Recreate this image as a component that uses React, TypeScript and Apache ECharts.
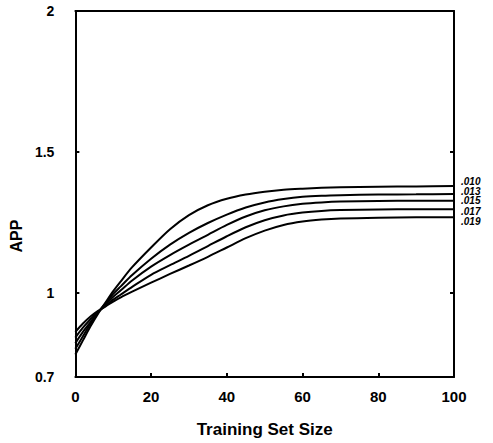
import React, { useEffect, useRef } from "react";
import * as echarts from "echarts";

const trainingSizes = [0, 2, 4, 6, 8, 10, 12, 15, 20, 25, 30, 35, 40, 45, 50, 55, 60, 65, 70, 80, 90, 100];

const seriesNames = [".010", ".013", ".015", ".017", ".019"];

const app010 = [0.78, 0.83, 0.88, 0.925, 0.965, 1.005, 1.04, 1.09, 1.16, 1.225, 1.275, 1.31, 1.333, 1.348, 1.358, 1.365, 1.369, 1.372, 1.374, 1.376, 1.377, 1.378];
const app013 = [0.8, 0.845, 0.89, 0.93, 0.962, 0.995, 1.022, 1.062, 1.12, 1.17, 1.212, 1.247, 1.277, 1.302, 1.32, 1.332, 1.34, 1.344, 1.346, 1.348, 1.349, 1.35];
const app015 = [0.82, 0.86, 0.895, 0.93, 0.958, 0.985, 1.008, 1.043, 1.092, 1.133, 1.17, 1.205, 1.24, 1.27, 1.292, 1.306, 1.315, 1.32, 1.323, 1.325, 1.326, 1.326];
const app017 = [0.84, 0.875, 0.905, 0.932, 0.953, 0.975, 0.993, 1.02, 1.063, 1.097, 1.13, 1.165, 1.2, 1.232, 1.257, 1.274, 1.284, 1.29, 1.293, 1.295, 1.296, 1.296];
const app019 = [0.86, 0.89, 0.915, 0.935, 0.951, 0.968, 0.983, 1.003, 1.035, 1.066, 1.096, 1.127, 1.16, 1.193, 1.22, 1.24, 1.252, 1.259, 1.263, 1.266, 1.267, 1.267];

const seriesValues = [app010, app013, app015, app017, app019];

const yLabelValues = [0.7, 1, 1.5, 2];
const yTickValues = [1, 1.5];
const xTickInterval = 20;

const endLabelOffsets = [-5, -3, 0, 2, 4];

const FONT = "'Liberation Sans', Arial, Helvetica, sans-serif";

export default function App() {
  const ref = useRef<HTMLDivElement>(null);

  useEffect(() => {
    if (!ref.current) return;
    const chart = echarts.init(ref.current, null, { renderer: "svg" });

    const series = seriesNames.map((name, i) => ({
      name,
      type: "line",
      xAxisIndex: 0,
      yAxisIndex: 0,
      data: trainingSizes.map((x, j) => [x, seriesValues[i][j]]),
      showSymbol: false,
      smooth: 0.3,
      lineStyle: { color: "#000", width: 2 },
      itemStyle: { color: "#000" },
      endLabel: {
        show: true,
        formatter: name,
        distance: 7,
        offset: [0, endLabelOffsets[i]],
        fontFamily: FONT,
        fontStyle: "italic",
        fontWeight: "bold",
        fontSize: 10,
        lineHeight: 9,
        color: "#000",
      },
    }));

    const option: any = {
      animation: false,
      backgroundColor: "#fff",
      grid: { left: 74, right: 39, top: 11, bottom: 61, containLabel: false },
      xAxis: [
        {
          type: "value",
          position: "bottom",
          min: 0,
          max: 100,
          interval: xTickInterval,
          name: "Training Set Size",
          nameLocation: "middle",
          nameGap: 44,
          nameTextStyle: { fontFamily: FONT, fontWeight: "bold", fontSize: 17, color: "#000" },
          axisLine: { show: true, lineStyle: { color: "#000", width: 2 } },
          axisTick: { show: true, inside: true, length: 4, lineStyle: { color: "#000", width: 2 } },
          axisLabel: { fontFamily: FONT, fontWeight: "bold", fontSize: 15, color: "#000", margin: 12 },
          splitLine: { show: false },
        },
        {
          type: "value",
          position: "top",
          min: 0,
          max: 100,
          axisLine: { show: true, onZero: false, lineStyle: { color: "#000", width: 2 } },
          axisTick: { show: false },
          axisLabel: { show: false },
          splitLine: { show: false },
        },
      ],
      yAxis: [
        {
          type: "value",
          position: "left",
          min: 0.7,
          max: 2,
          name: "APP",
          nameLocation: "middle",
          nameGap: 49,
          nameTextStyle: {
            fontFamily: FONT,
            fontWeight: "bold",
            fontSize: 16,
            color: "#000",
            padding: [0, 84, 0, 0],
          },
          axisLine: { show: true, onZero: false, lineStyle: { color: "#000", width: 2 } },
          axisTick: {
            show: true,
            inside: true,
            length: 4,
            customValues: yTickValues,
            lineStyle: { color: "#000", width: 2 },
          },
          axisLabel: {
            customValues: yLabelValues,
            fontFamily: FONT,
            fontWeight: "bold",
            fontSize: 14,
            color: "#000",
            margin: 21,
          },
          splitLine: { show: false },
        },
        {
          type: "value",
          position: "right",
          min: 0.7,
          max: 2,
          axisLine: { show: true, onZero: false, lineStyle: { color: "#000", width: 2 } },
          axisTick: {
            show: true,
            inside: true,
            length: 4,
            customValues: yTickValues,
            lineStyle: { color: "#000", width: 2 },
          },
          axisLabel: { show: false },
          splitLine: { show: false },
        },
      ],
      series,
    };

    chart.setOption(option);
    return () => chart.dispose();
  }, []);

  return (
    <div
      ref={ref}
      style={{ position: "fixed", left: 0, top: 0, width: 493, height: 443, background: "#fff" }}
    />
  );
}
